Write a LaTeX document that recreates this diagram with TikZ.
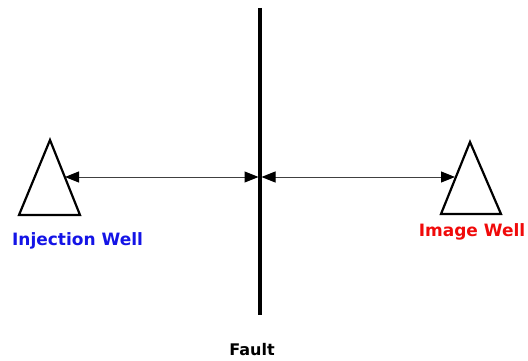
\documentclass[tikz,border=0pt]{standalone}
\usepackage{fontspec}
\setmainfont{DejaVu Sans}
\usetikzlibrary{arrows.meta}
\begin{document}
\begin{tikzpicture}[x=1pt,y=-1pt,
  well/.style={draw=black,line width=2.2pt,line join=miter},
  link/.style={draw=black!75,line width=1pt,{Triangle[length=14pt,width=11pt,color=black]}-{Triangle[length=14pt,width=11pt,color=black]}},
  lbl/.style={font=\fontsize{17}{19}\selectfont\bfseries,inner sep=0pt,anchor=base}]
\useasboundingbox (0,0) rectangle (528,361);
\draw[line width=4pt] (260,8) -- (260,315);
\coordinate (F) at (260,177);
\draw[well] (50,140) -- (80,215) -- (19,215) -- cycle;
\draw[well] (470,142) -- (501,214) -- (441,214) -- cycle;
\coordinate (L) at (65,177);
\coordinate (R) at (455,177);
\draw[link] (L) -- ([xshift=-1.5pt]F);
\draw[link] ([xshift=1.5pt]F) -- (R);
\node[lbl,text={rgb,255:red,20;green,20;blue,230}] (inj) at (77.5,245) {Injection Well};
\node[lbl,text={rgb,255:red,240;green,10;blue,10}] (img) at (472,236) {Image Well};
\node[lbl,font=\fontsize{16}{18}\selectfont\bfseries] (fault) at (252,355) {Fault};
\end{tikzpicture}
\end{document}
